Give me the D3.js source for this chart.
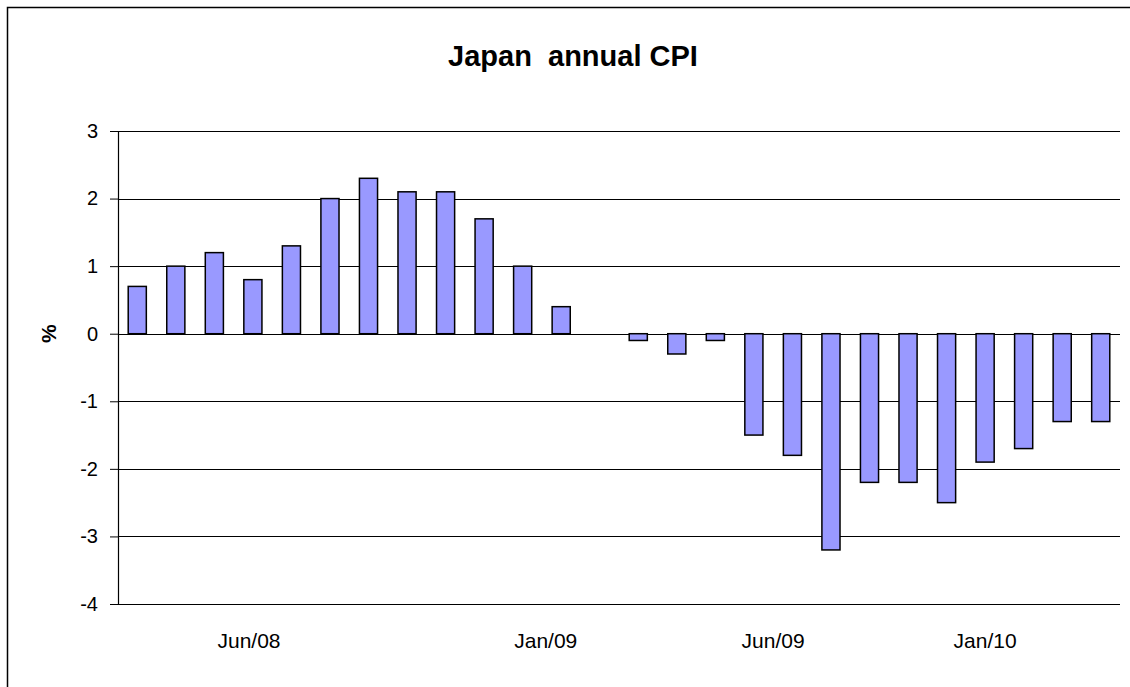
<!DOCTYPE html>
<html>
<head>
<meta charset="utf-8">
<script src="https://cdn.jsdelivr.net/npm/d3@7"></script>
<style>
  html, body { margin: 0; padding: 0; background: #fff; overflow: hidden; width: 1130px; height: 687px; scrollbar-width: none; }
  ::-webkit-scrollbar { display: none; width: 0; height: 0; }
  svg { display: block; }
  text { font-family: "Liberation Sans", Arial, sans-serif; }
</style>
</head>
<body>
<div class="chart"></div>
<script>
// monthly categories, Jan/08 .. Feb/10
const months = ["Jan/08","Feb/08","Mar/08","Apr/08","May/08","Jun/08","Jul/08","Aug/08","Sep/08","Oct/08","Nov/08","Dec/08",
  "Jan/09","Feb/09","Mar/09","Apr/09","May/09","Jun/09","Jul/09","Aug/09","Sep/09","Oct/09","Nov/09","Dec/09",
  "Jan/10","Feb/10"]
const cpi = [0.7, 1.0, 1.2, 0.8, 1.3, 2.0, 2.3, 2.1, 2.1, 1.7, 1.0, 0.4,
  0, -0.1, -0.3, -0.1, -1.5, -1.8, -3.2, -2.2, -2.2, -2.5, -1.9, -1.7,
  -1.3, -1.3]
// axis labels as shown, and where they sit along the category axis (in category units)
const xLabels = ["Jun/08", "Jan/09", "Jun/09", "Jan/10"]
const xLabelAt = [3.4, 11.1, 17.0, 22.5]
const yTicks = [-4, -3, -2, -1, 0, 1, 2, 3]

const width = 1130
const height = 687
const margin = {top: 131, right: 10, bottom: 83, left: 118}

const svg = d3.select(".chart")
  .append("svg")
  .attr("width", width)
  .attr("height", height)

// outer frame: only the top and left edges are inside the picture
svg.append("path")
  .attr("d", `M7.5,${height} V7.5 H${width}`)
  .attr("fill", "none")
  .attr("stroke", "black")
  .attr("stroke-width", 1.5)

const x = d3.scaleBand()
  .domain(months)
  .range([margin.left, width - margin.right])
  .paddingInner(0.53)
  .paddingOuter(0.265)

const xPos = d3.scaleLinear()
  .domain([0, months.length])
  .range([margin.left, width - margin.right])

const y = d3.scaleLinear()
  .domain([-4, 3])
  .range([height - margin.bottom, margin.top])

// y axis
const yAxis = d3.axisLeft(y)
  .tickValues(yTicks)
  .tickSize(8)
  .tickPadding(12)
  .tickFormat(d => String(d))

const gy = svg.append("g")
  .attr("transform", `translate(${margin.left},0)`)
  .call(yAxis)
gy.select(".domain").attr("stroke", "black").attr("stroke-width", 1.2)
gy.selectAll(".tick line").attr("stroke", "black")
gy.selectAll(".tick text")
  .attr("font-size", 20)
  .attr("fill", "black")
  .attr("font-family", "Liberation Sans, Arial, sans-serif")

// gridlines
svg.append("g")
  .selectAll("line")
  .data(yTicks)
  .join("line")
  .attr("x1", margin.left)
  .attr("x2", width - margin.right)
  .attr("y1", d => Math.round(y(d)) + 0.5)
  .attr("y2", d => Math.round(y(d)) + 0.5)
  .attr("stroke", "black")
  .attr("stroke-width", 1.2)

// bars
svg.append("g")
  .selectAll("rect")
  .data(cpi)
  .join("rect")
  .attr("x", (d, i) => x(months[i]))
  .attr("width", x.bandwidth())
  .attr("y", d => y(Math.max(0, d)))
  .attr("height", d => Math.abs(y(d) - y(0)))
  .attr("fill", "#9999ff")
  .attr("stroke", "black")
  .attr("stroke-width", 1.5)
  .attr("display", d => d === 0 ? "none" : null)

// x labels
svg.append("g")
  .selectAll("text")
  .data(xLabels)
  .join("text")
  .attr("x", (d, i) => xPos(xLabelAt[i]))
  .attr("y", 648)
  .attr("text-anchor", "middle")
  .attr("font-size", 21)
  .text(d => d)

// title
svg.append("text")
  .attr("x", 573)
  .attr("y", 66)
  .attr("text-anchor", "middle")
  .attr("font-size", 29)
  .attr("font-weight", "bold")
  .style("white-space", "pre")
  .text("Japan  annual CPI")

// y axis title
svg.append("text")
  .attr("transform", `translate(56,${y(0)}) rotate(-90)`)
  .attr("text-anchor", "middle")
  .attr("font-size", 21)
  .attr("font-weight", "bold")
  .text("%")
</script>
</body>
</html>
